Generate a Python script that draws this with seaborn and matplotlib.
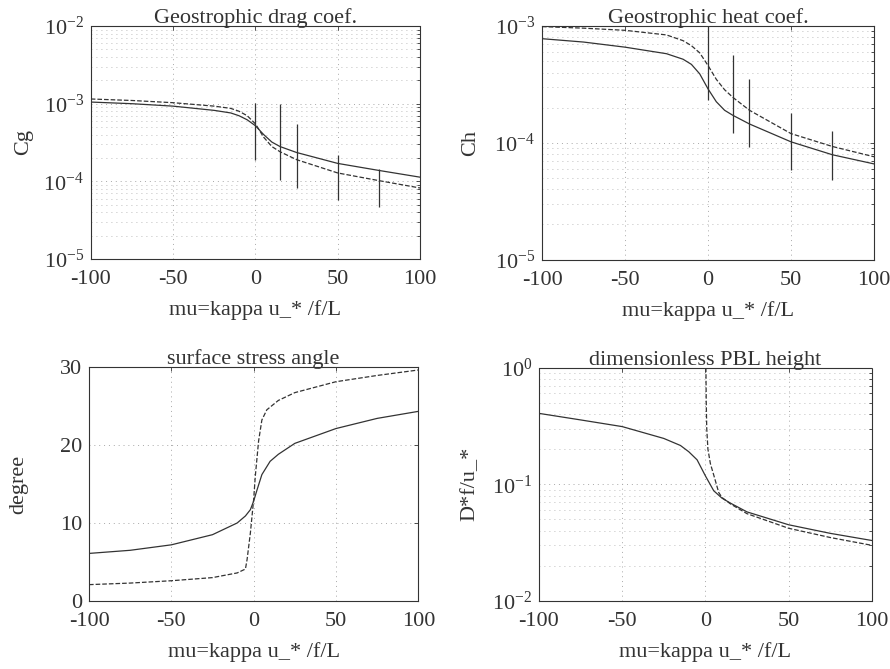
import numpy as np
import pandas as pd
import matplotlib
matplotlib.use("Agg")
import matplotlib.pyplot as plt
from matplotlib.ticker import LogLocator, FixedLocator
import seaborn as sns

# ---------------- data ----------------
mu_grid = [-100, -75, -50, -25, -15, -10, -5, 0, 5, 10, 15, 25, 50, 75, 100]

cg_solid = [1.05e-3, 1.0e-3, 0.93e-3, 0.82e-3, 0.76e-3, 0.70e-3, 0.62e-3, 0.52e-3,
            0.40e-3, 0.32e-3, 0.28e-3, 0.235e-3, 0.17e-3, 0.138e-3, 0.113e-3]
cg_dash = [1.15e-3, 1.1e-3, 1.03e-3, 0.93e-3, 0.87e-3, 0.80e-3, 0.70e-3, 0.55e-3,
           0.37e-3, 0.28e-3, 0.24e-3, 0.19e-3, 0.128e-3, 0.102e-3, 0.082e-3]

ch_solid = [7.8e-4, 7.3e-4, 6.6e-4, 5.8e-4, 5.2e-4, 4.7e-4, 3.9e-4, 2.9e-4,
            2.25e-4, 1.9e-4, 1.72e-4, 1.45e-4, 1.02e-4, 7.9e-5, 6.6e-5]
ch_dash = [9.9e-4, 9.6e-4, 9.2e-4, 8.4e-4, 7.5e-4, 6.8e-4, 5.9e-4, 4.6e-4,
           3.5e-4, 2.85e-4, 2.45e-4, 1.9e-4, 1.2e-4, 9.3e-5, 7.6e-5]

obs_mu = [0, 15, 25, 50, 75]
cg_obs_lo = [1.9e-4, 1.05e-4, 8.1e-5, 5.8e-5, 4.7e-5]
cg_obs_hi = [1.02e-3, 1.0e-3, 5.4e-4, 2.2e-4, 1.45e-4]
ch_obs_lo = [2.35e-4, 1.21e-4, 9.3e-5, 5.9e-5, 4.8e-5]
ch_obs_hi = [1.2e-3, 5.6e-4, 3.5e-4, 1.8e-4, 1.26e-4]

ang_mu_solid = [-100, -75, -50, -25, -10, -5, -2, 0, 2, 5, 10, 15, 25, 50, 75, 100]
ang_solid = [6.1, 6.5, 7.2, 8.5, 10.0, 10.9, 11.7, 12.8, 14.2, 16.2, 17.9, 18.8, 20.2, 22.1, 23.4, 24.3]
ang_mu_dash = [-100, -75, -50, -25, -10, -5, -4, -2, 0, 1, 3, 5, 8, 15, 25, 50, 75, 100]
ang_dash = [2.1, 2.3, 2.6, 3.0, 3.6, 4.1, 5.3, 8.7, 13.0, 16.0, 20.5, 23.2, 24.5, 25.7, 26.7, 28.1, 28.9, 29.6]

pbl_solid = [0.405, 0.356, 0.312, 0.247, 0.215, 0.19, 0.162, 0.118,
             0.088, 0.076, 0.069, 0.058, 0.045, 0.038, 0.033]
pbl_mu_dash = [0.3, 0.5, 0.8, 1.5, 3, 5, 8, 10, 15, 25, 50, 75, 100]
pbl_dash = [1.0, 0.5, 0.3, 0.2, 0.15, 0.12, 0.085, 0.077, 0.068, 0.056, 0.042, 0.035, 0.030]

titles = ["Geostrophic drag coef.", "Geostrophic heat coef.",
          "surface stress angle", "dimensionless PBL height"]
ylabels = ["Cg", "Ch", "degree", "D*f/u_*"]
xlabel = "mu=kappa u_* /f/L"

# ---------------- style ----------------
sns.set_theme(style="white")
plt.rcParams["font.family"] = ["Liberation Serif", "DejaVu Serif"]
plt.rcParams["mathtext.fontset"] = "custom"
plt.rcParams["mathtext.rm"] = "Liberation Serif"
plt.rcParams["mathtext.it"] = "Liberation Serif:italic"
FS = 16
LC = "#333333"
GC = "#a8a8a8"

fig = plt.figure(figsize=(8.9, 6.69), dpi=100)
pos = [
    [0.102, 0.613, 0.370, 0.348],
    [0.609, 0.612, 0.373, 0.349],
    [0.100, 0.1016, 0.370, 0.350],
    [0.6056, 0.1016, 0.374, 0.349],
]
axes = [fig.add_axes(p) for p in pos]


def style(ax, logy):
    ax.set_xlim(-100, 100)
    ax.xaxis.set_major_locator(FixedLocator([-100, -50, 0, 50, 100]))
    ax.set_xticklabels(["-100", "-50", "0", "50", "100"])
    ax.tick_params(axis="both", which="both", direction="in", top=True, right=True,
                   labelsize=FS, colors=LC, length=3, width=0.6)
    ax.tick_params(axis="x", which="both", pad=8)
    ax.tick_params(axis="y", which="both", pad=5)
    ax.tick_params(axis="both", which="minor", length=2)
    ax.grid(True, which="major", linestyle=(0, (1, 4)), color=GC, linewidth=0.7)
    if logy:
        ax.yaxis.set_minor_locator(LogLocator(base=10, subs=np.arange(2, 10)))
        ax.grid(True, which="minor", axis="y", linestyle=(0, (1, 5)), color=GC, linewidth=0.6)
    for s in ax.spines.values():
        s.set_linestyle((0, (1, 1)))
        s.set_color(LC)
        s.set_linewidth(0.8)
    ax.set_xlabel(xlabel, fontsize=FS, labelpad=8, color=LC)


def logfmt(ax, ylo, yhi):
    ax.set_yscale("log")
    ax.set_ylim(ylo, yhi)
    ticks = [10.0 ** e for e in range(int(np.log10(ylo)), int(np.log10(yhi)) + 1)]
    ax.set_yticks(ticks)
    ax.set_yticklabels([r"$10^{%d}$" % int(round(np.log10(t))) for t in ticks])


# Panel 1: Cg
ax = axes[0]
logfmt(ax, 1e-5, 1e-2)
sns.lineplot(x=mu_grid, y=cg_solid, ax=ax, color=LC, linewidth=0.9)
sns.lineplot(x=mu_grid, y=cg_dash, ax=ax, color=LC, linewidth=0.9, linestyle="--")
ax.vlines(obs_mu, cg_obs_lo, cg_obs_hi, color=LC, linewidth=0.9)
style(ax, True)

# Panel 2: Ch
ax = axes[1]
logfmt(ax, 1e-5, 1e-3)
sns.lineplot(x=mu_grid, y=ch_solid, ax=ax, color=LC, linewidth=0.9)
sns.lineplot(x=mu_grid, y=ch_dash, ax=ax, color=LC, linewidth=0.9, linestyle="--")
ax.vlines(obs_mu, ch_obs_lo, ch_obs_hi, color=LC, linewidth=0.9)
style(ax, True)

# Panel 3: angle
ax = axes[2]
ax.set_ylim(0, 30)
sns.lineplot(x=ang_mu_solid, y=ang_solid, ax=ax, color=LC, linewidth=0.9)
sns.lineplot(x=ang_mu_dash, y=ang_dash, ax=ax, color=LC, linewidth=0.9, linestyle="--")
ax.set_yticks([0, 10, 20, 30])
style(ax, False)

# Panel 4: PBL height
ax = axes[3]
logfmt(ax, 1e-2, 1e0)
sns.lineplot(x=mu_grid, y=pbl_solid, ax=ax, color=LC, linewidth=0.9)
sns.lineplot(x=pbl_mu_dash, y=pbl_dash, ax=ax, color=LC, linewidth=0.9, linestyle="--")
style(ax, True)

label_x = [-0.175, -0.185, -0.185, -0.18]
for ax, t, yl, lx in zip(axes, titles, ylabels, label_x):
    ax.set_title(t, fontsize=FS, pad=2, color=LC)
    ax.set_ylabel(yl, fontsize=FS, color=LC)
    ax.yaxis.set_label_coords(lx, 0.5)
    ax.set_xlim(-100, 100)

fig.savefig("out.png", dpi=100, facecolor="white")
